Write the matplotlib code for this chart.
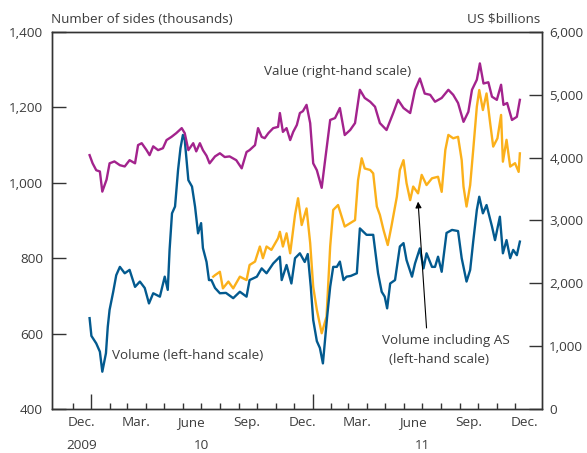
import numpy as np
import matplotlib
matplotlib.use('Agg')
import matplotlib.pyplot as plt
import matplotlib.dates as mdates
from matplotlib.ticker import FixedLocator, FuncFormatter

plt.rcParams['font.family'] = ['Open Sans', 'DejaVu Sans']

# days counted from 1 Jan 2010
start = np.datetime64('2010-01-01')

value_days = [-3, 2, 8, 14, 18, 25, 30, 38, 47, 55, 63, 72, 77, 83, 91, 96, 102, 110, 118, 124,
              132, 140, 149, 154, 160, 168, 173, 179, 184, 190, 195, 204, 212, 220, 228, 239, 248, 256, 261, 270,
              275, 281, 286, 292, 300, 308, 311, 316, 322, 328, 333, 339, 344, 349, 355, 361, 366, 372, 380, 385,
              394, 402, 410, 418, 427, 435, 443, 451, 460, 468, 476, 487, 498, 506, 515, 526, 534, 542, 550, 559,
              567, 578, 589, 597, 605, 614, 622, 628, 636, 641, 647, 655, 661, 669, 676, 680, 686, 694, 702, 707]
value_bn = [4040, 3910, 3800, 3780, 3460, 3650, 3910, 3940, 3880, 3860, 3960, 3910, 4200, 4230, 4120, 4040, 4180, 4120, 4150, 4280,
            4330, 4390, 4470, 4390, 4120, 4230, 4100, 4230, 4120, 4030, 3910, 4020, 4070, 4010, 4020, 3960, 3830, 4090, 4120, 4200,
            4470, 4330, 4310, 4390, 4470, 4490, 4710, 4410, 4470, 4280, 4410, 4520, 4710, 4740, 4840, 4550, 3910, 3800, 3520, 3910,
            4600, 4630, 4790, 4360, 4440, 4550, 5080, 4950, 4890, 4810, 4550, 4440, 4710, 4920, 4790, 4710, 5080, 5260, 5020, 5000,
            4890, 4950, 5080, 5000, 4870, 4570, 4730, 5080, 5240, 5500, 5180, 5200, 4970, 4920, 5160, 4840, 4870, 4600, 4650, 4920]

volume_days = [-3, 0, 8, 14, 18, 24, 27, 30, 36, 41, 47, 55, 63, 72, 80, 88, 95, 102, 113, 121,
               126, 129, 133, 138, 143, 147, 151, 154, 160, 166, 171, 176, 181, 184, 190, 194, 198, 204, 212, 222,
               234, 245, 256, 261, 273, 281, 289, 300, 311, 314, 322, 330, 336, 344, 352, 357, 362, 366, 372, 377,
               382, 385, 389, 394, 399, 405, 410, 416, 421, 428, 438, 443, 454, 465, 473, 479, 484, 488, 493, 501,
               509, 515, 520, 529, 534, 542, 548, 553, 562, 567, 572, 578, 586, 595, 605, 611, 619, 625, 630, 636,
               640, 646, 652, 661, 666, 674, 679, 685, 691, 696, 702, 707]
volume_k = [641, 594, 574, 552, 499, 548, 618, 663, 711, 755, 777, 760, 769, 724, 738, 721, 680, 707, 698, 751,
            716, 822, 919, 937, 1034, 1092, 1127, 1114, 1007, 990, 937, 866, 893, 827, 790, 742, 742, 721, 707, 708,
            694, 711, 698, 742, 751, 773, 760, 786, 804, 742, 782, 733, 800, 813, 790, 811, 724, 636, 580, 562,
            521, 574, 645, 724, 777, 777, 791, 742, 751, 753, 760, 879, 862, 862, 760, 711, 698, 667, 733, 742,
            831, 840, 795, 751, 786, 826, 773, 813, 777, 777, 804, 764, 867, 875, 872, 800, 738, 769, 844, 928,
            963, 919, 941, 884, 848, 910, 813, 848, 800, 822, 808, 844]

volume_as_days = [201, 204, 212, 217, 226, 234, 245, 256, 261, 270, 278, 283, 289, 297, 308, 311, 316, 322, 328, 336,
                  341, 347, 355, 361, 366, 372, 380, 388, 394, 399, 407, 413, 418, 427, 435, 440, 446, 451, 460, 465,
                  471, 476, 482, 489, 495, 504, 509, 515, 520, 526, 531, 539, 545, 553, 562, 572, 578, 584, 589, 597,
                  605, 611, 614, 619, 625, 630, 636, 640, 646, 652, 658, 663, 670, 676, 679, 685, 691, 699, 705, 707]
volume_as_k = [751, 755, 764, 720, 738, 720, 751, 742, 782, 791, 831, 800, 831, 822, 853, 870, 831, 866, 813, 915,
               959, 888, 932, 840, 724, 663, 601, 645, 831, 928, 941, 910, 884, 893, 901, 1007, 1065, 1038, 1034, 1025,
               937, 915, 875, 835, 884, 963, 1034, 1060, 999, 954, 990, 972, 1021, 994, 1012, 1016, 976, 1087, 1127, 1118,
               1122, 1060, 990, 937, 994, 1087, 1202, 1246, 1193, 1237, 1158, 1096, 1118, 1180, 1056, 1114, 1043, 1052, 1029, 1078]

month_labels = ['Dec.', 'Mar.', 'June', 'Sep.', 'Dec.', 'Mar.', 'June', 'Sep.', 'Dec.']
month_label_dates = ['2009-12-16', '2010-03-16', '2010-06-15', '2010-09-15', '2010-12-16',
                     '2011-03-16', '2011-06-15', '2011-09-15', '2011-12-16']
year_labels = ['2009', '10', '11']
year_label_dates = ['2009-12-16', '2010-07-01', '2011-07-01']

blue = '#035a8f'
orange = '#fbb01a'
magenta = '#a3238d'
text_col = '#3c3c3c'
spine_col = '#333333'
fs = 9.7


def to_dates(days):
    return start + np.array(days, dtype='timedelta64[D]')


fig = plt.figure(figsize=(5.87, 4.53), dpi=100)
ax = fig.add_axes([0.0886, 0.0971, 0.8342, 0.8323])
ax2 = ax.twinx()

ax.plot(to_dates(volume_as_days), volume_as_k, color=orange, lw=1.7, zorder=2)
ax.plot(to_dates(volume_days), volume_k, color=blue, lw=1.7, zorder=3)
ax2.plot(to_dates(value_days), value_bn, color=magenta, lw=1.7)

ax.set_xlim(np.datetime64('2009-10-28'), np.datetime64('2012-01-14'))
ax.set_ylim(400, 1400)
ax2.set_ylim(0, 6000)

comma = FuncFormatter(lambda v, p: f'{int(v):,}')
ax.yaxis.set_major_locator(FixedLocator(range(400, 1401, 200)))
ax.yaxis.set_major_formatter(comma)
ax2.yaxis.set_major_locator(FixedLocator(range(0, 6001, 1000)))
ax2.yaxis.set_major_formatter(comma)

years = mdates.date2num(np.array(['2010-01-01', '2011-01-01'], dtype='datetime64[D]'))
months = np.arange(np.datetime64('2009-12'), np.datetime64('2012-01'), dtype='datetime64[M]').astype('datetime64[D]')
ax.xaxis.set_major_locator(FixedLocator(years))
ax.xaxis.set_minor_locator(FixedLocator(mdates.date2num(months)))
ax.tick_params(axis='x', which='major', direction='in', length=10.8, width=1, color=spine_col, labelbottom=False)
ax.tick_params(axis='x', which='minor', direction='in', length=4.5, width=1, color=spine_col)

ax.tick_params(axis='y', direction='in', length=10, width=1, pad=6.5, color=spine_col,
               labelsize=fs, labelcolor=text_col)
ax2.tick_params(axis='y', direction='in', length=9.5, width=1, pad=5.5, color=spine_col,
                labelsize=fs, labelcolor=text_col)

for a in (ax, ax2):
    for s in a.spines.values():
        s.set_color(spine_col)
        s.set_linewidth(1.0)

trans = ax.get_xaxis_transform()
for d, s in zip(month_label_dates, month_labels):
    ax.text(mdates.date2num(np.datetime64(d)), -0.037, s, transform=trans, ha='center', va='center',
            fontsize=fs, color=text_col)
for d, s in zip(year_label_dates, year_labels):
    ax.text(mdates.date2num(np.datetime64(d)), -0.098, s, transform=trans, ha='center', va='center',
            fontsize=fs, color=text_col)

fig.text(0.0864, 0.958, 'Number of sides (thousands)', ha='left', va='center', fontsize=fs, color=text_col)
fig.text(0.9211, 0.958, 'US $billions', ha='right', va='center', fontsize=fs, color=text_col)

ax.text(0.584, 0.894, 'Value (right-hand scale)', transform=ax.transAxes, ha='center', va='center',
        fontsize=fs, color=text_col)
ax.text(0.122, 0.143, 'Volume (left-hand scale)', transform=ax.transAxes, ha='left', va='center',
        fontsize=fs, color=text_col)
ax.text(0.8047, 0.181, 'Volume including AS', transform=ax.transAxes, ha='center', va='center',
        fontsize=fs, color=text_col)
ax.text(0.791, 0.130, '(left-hand scale)', transform=ax.transAxes, ha='center', va='center',
        fontsize=fs, color=text_col)

ax.annotate('', xy=(start + np.timedelta64(539, 'D'), 950), xytext=(start + np.timedelta64(553, 'D'), 615),
            arrowprops=dict(arrowstyle='-|>', color='black', lw=0.8, mutation_scale=9, shrinkA=0, shrinkB=0))

fig.savefig('out.png', dpi=100)
